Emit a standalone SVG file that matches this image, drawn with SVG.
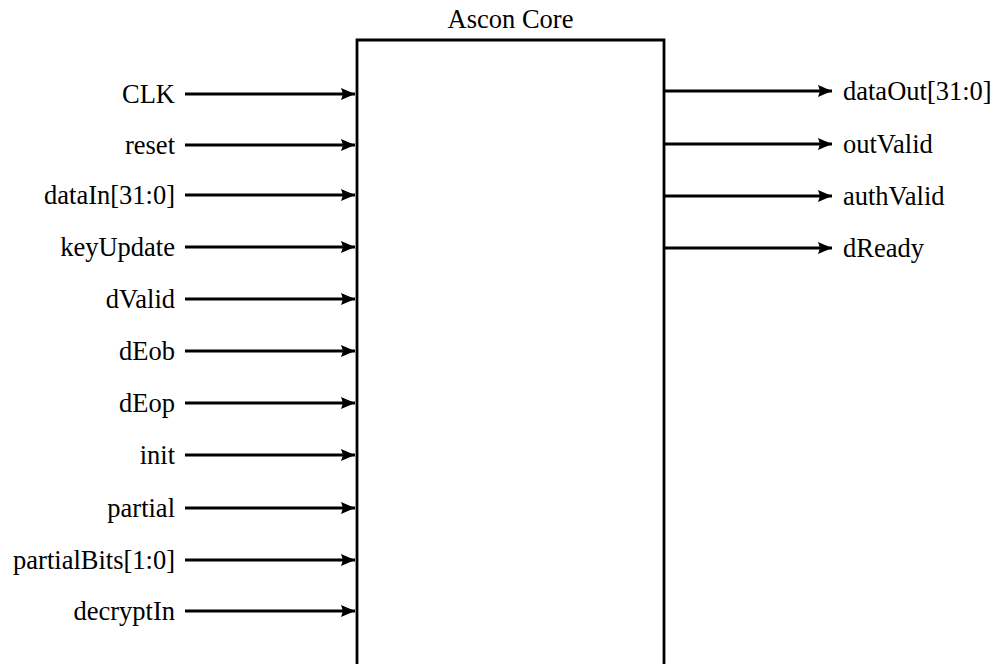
<svg xmlns="http://www.w3.org/2000/svg" width="998" height="664" viewBox="0 0 998 664">
<style>
text{font-family:"Liberation Serif","DejaVu Serif",serif;font-size:26.5px;fill:#000}
.in{text-anchor:end}
.out{text-anchor:start}
.w{stroke:#000;stroke-width:2.8;fill:none}
</style>
<defs>
<marker id="ah" markerUnits="userSpaceOnUse" markerWidth="15" markerHeight="13" viewBox="0 0 15 13" refX="14" refY="6.5" orient="auto">
<path d="M0,0.5 L14,6.5 L0,12.5 L2,6.5 Z" fill="#000"/>
</marker>
</defs>
<rect width="998" height="664" fill="#fff"/>
<g id="core">
<path class="w" d="M357,670 V40 H664 V670"/>
<text x="510.5" y="28" text-anchor="middle">Ascon Core</text>
</g>
<g id="connectors">
<line class="w" x1="185" y1="94" x2="355" y2="94" marker-end="url(#ah)"/>
<line class="w" x1="185" y1="145" x2="355" y2="145" marker-end="url(#ah)"/>
<line class="w" x1="185" y1="195" x2="355" y2="195" marker-end="url(#ah)"/>
<line class="w" x1="185" y1="247" x2="355" y2="247" marker-end="url(#ah)"/>
<line class="w" x1="185" y1="299" x2="355" y2="299" marker-end="url(#ah)"/>
<line class="w" x1="185" y1="351" x2="355" y2="351" marker-end="url(#ah)"/>
<line class="w" x1="185" y1="403" x2="355" y2="403" marker-end="url(#ah)"/>
<line class="w" x1="185" y1="455" x2="355" y2="455" marker-end="url(#ah)"/>
<line class="w" x1="185" y1="508" x2="355" y2="508" marker-end="url(#ah)"/>
<line class="w" x1="185" y1="560" x2="355" y2="560" marker-end="url(#ah)"/>
<line class="w" x1="185" y1="611" x2="355" y2="611" marker-end="url(#ah)"/>
<line class="w" x1="665" y1="91" x2="832" y2="91" marker-end="url(#ah)"/>
<line class="w" x1="665" y1="144" x2="832" y2="144" marker-end="url(#ah)"/>
<line class="w" x1="665" y1="196" x2="832" y2="196" marker-end="url(#ah)"/>
<line class="w" x1="665" y1="248" x2="832" y2="248" marker-end="url(#ah)"/>
</g>
<g id="in-CLK"><text class="in" x="175" y="103">CLK</text></g>
<g id="in-reset"><text class="in" x="175" y="154">reset</text></g>
<g id="in-dataIn"><text class="in" x="175" y="204">dataIn[31:0]</text></g>
<g id="in-keyUpdate"><text class="in" x="175" y="256">keyUpdate</text></g>
<g id="in-dValid"><text class="in" x="175" y="308">dValid</text></g>
<g id="in-dEob"><text class="in" x="175" y="360">dEob</text></g>
<g id="in-dEop"><text class="in" x="175" y="412">dEop</text></g>
<g id="in-init"><text class="in" x="175" y="464">init</text></g>
<g id="in-partial"><text class="in" x="175" y="517">partial</text></g>
<g id="in-partialBits"><text class="in" x="175" y="569">partialBits[1:0]</text></g>
<g id="in-decryptIn"><text class="in" x="175" y="620">decryptIn</text></g>
<g id="out-dataOut"><text class="out" x="843" y="100">dataOut[31:0]</text></g>
<g id="out-outValid"><text class="out" x="843" y="153">outValid</text></g>
<g id="out-authValid"><text class="out" x="843" y="205">authValid</text></g>
<g id="out-dReady"><text class="out" x="843" y="257">dReady</text></g>
</svg>
